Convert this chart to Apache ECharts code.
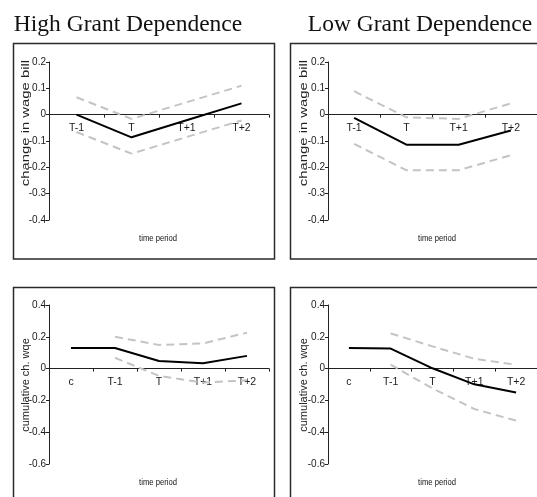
<!DOCTYPE html>
<html>
<head>
<meta charset="utf-8">
<script src="https://cdn.jsdelivr.net/npm/echarts@6/dist/echarts.min.js"></script>
<style>
  html, body { margin: 0; padding: 0; background: #fff; }
  #chart { width: 537px; height: 497px; }
</style>
</head>
<body>
<div id="chart"></div>
<script>
// Time periods around the grant change
var topCats = ['T-1', 'T', 'T+1', 'T+2'];
var bottomCats = ['c', 'T-1', 'T', 'T+1', 'T+2'];

// Change in wage bill: estimate and confidence band
var highWage      = [0, -0.086, -0.021, 0.043];
var highWageUpper = [0.066, -0.016, 0.047, 0.11];
var highWageLower = [-0.066, -0.148, -0.085, -0.022];

var lowWage       = [-0.012, -0.114, -0.114, -0.06];
var lowWageUpper  = [0.089, -0.01, -0.016, 0.043];
var lowWageLower  = [-0.111, -0.211, -0.211, -0.154];

// Cumulative change in wage bill
var highCum       = [0.13, 0.13, 0.048, 0.033, 0.08];
var highCumUpper  = [null, 0.2, 0.149, 0.158, 0.226];
var highCumLower  = [null, 0.068, -0.046, -0.088, -0.074];

var lowCum        = [0.13, 0.126, 0.002, -0.099, -0.15];
var lowCumUpper   = [null, 0.221, 0.14, 0.062, 0.024];
var lowCumLower   = [null, 0.025, -0.125, -0.254, -0.327];

// Value-axis ranges
var wageRange = { min: -0.4, max: 0.2, step: 0.1 };
var cumRange  = { min: -0.6, max: 0.4, step: 0.2 };

var titles = ['High Grant Dependence', 'Low Grant Dependence'];
var wageAxisName = 'change in wage bill';
var cumAxisName = 'cumulative ch. wqe';
var xAxisName = 'time period';

var chart = echarts.init(document.getElementById('chart'), null, { renderer: 'canvas' });

var sansFont = '"Liberation Sans", Arial, sans-serif';
var serifFont = '"Liberation Serif", "Times New Roman", serif';
var axisColor = '#222';

// Plot areas of the four panels
var grids = [
  { left: 49, top: 62, width: 220, height: 158 },
  { left: 328, top: 62, width: 219, height: 158 },
  { left: 49, top: 305, width: 220, height: 159 },
  { left: 328, top: 305, width: 219, height: 159 }
];

function fmt(v) {
  return (+v.toFixed(2)).toString();
}

// Category axis drawn along the zero line of its panel
function xAxisFor(idx, cats, range) {
  var g = grids[idx];
  var zeroFromBottom = g.height * (0 - range.min) / (range.max - range.min);
  return {
    type: 'category', gridIndex: idx, data: cats, boundaryGap: true,
    position: 'bottom', offset: -zeroFromBottom,
    axisLine: { onZero: false, lineStyle: { color: axisColor, width: 1 } },
    axisTick: { show: true, length: 3, lineStyle: { color: axisColor } },
    axisLabel: { color: '#1a1a1a', fontFamily: sansFont, fontSize: 10.5, margin: 8 },
    splitLine: { show: false }
  };
}
function yAxisFor(idx, range) {
  return {
    type: 'value', gridIndex: idx, min: range.min, max: range.max, interval: range.step,
    axisLine: { show: true, onZero: false, lineStyle: { color: axisColor, width: 1 } },
    axisTick: { show: true, length: 3, lineStyle: { color: axisColor } },
    axisLabel: { color: '#1a1a1a', fontFamily: sansFont, fontSize: 10, margin: 3, formatter: fmt },
    splitLine: { show: false }
  };
}
function line(idx, data, kind) {
  var style = kind === 'est'
    ? { color: '#000', width: 2, type: 'solid' }
    : { color: '#c4c4c4', width: 2, type: [8, 5] };
  return {
    type: 'line', xAxisIndex: idx, yAxisIndex: idx, data: data,
    symbol: 'none', silent: true, animation: false,
    lineStyle: style, itemStyle: { color: style.color }, z: kind === 'est' ? 3 : 2
  };
}

function panelBox(x, y, w, h) {
  return { type: 'rect', shape: { x: x, y: y, width: w, height: h }, silent: true, z: -1,
           style: { fill: 'none', stroke: '#2a2a2a', lineWidth: 1.5 } };
}
function vText(text, x, y, stretch) {
  return { type: 'text', x: x, y: y, rotation: Math.PI / 2, scaleX: stretch, silent: true,
           style: { text: text, font: '11px ' + sansFont, fill: '#222', align: 'center', verticalAlign: 'middle' } };
}
function hText(text, x, y, font, squeeze) {
  return { type: 'text', x: x, y: y, scaleX: squeeze || 1, silent: true,
           style: { text: text, font: font, fill: '#111', align: 'center', verticalAlign: 'middle' } };
}

var option = {
  backgroundColor: '#fff',
  animation: false,
  grid: grids,
  xAxis: [
    xAxisFor(0, topCats, wageRange), xAxisFor(1, topCats, wageRange),
    xAxisFor(2, bottomCats, cumRange), xAxisFor(3, bottomCats, cumRange)
  ],
  yAxis: [
    yAxisFor(0, wageRange), yAxisFor(1, wageRange),
    yAxisFor(2, cumRange), yAxisFor(3, cumRange)
  ],
  series: [
    line(0, highWageUpper, 'band'), line(0, highWageLower, 'band'), line(0, highWage, 'est'),
    line(1, lowWageUpper, 'band'), line(1, lowWageLower, 'band'), line(1, lowWage, 'est'),
    line(2, highCumUpper, 'band'), line(2, highCumLower, 'band'), line(2, highCum, 'est'),
    line(3, lowCumUpper, 'band'), line(3, lowCumLower, 'band'), line(3, lowCum, 'est')
  ],
  graphic: [
    panelBox(13.5, 43.5, 261, 215.5),
    panelBox(290.5, 43.5, 260, 215.5),
    panelBox(13.5, 287.5, 261, 220),
    panelBox(290.5, 287.5, 260, 220),
    hText(titles[0], 128, 25, '23.5px ' + serifFont),
    hText(titles[1], 420, 25, '23.5px ' + serifFont),
    vText(wageAxisName, 26, 123, 1.35),
    vText(wageAxisName, 304, 123, 1.35),
    vText(cumAxisName, 26, 385, 1),
    vText(cumAxisName, 304, 385, 1),
    hText(xAxisName, 158, 239, '9px ' + sansFont, 0.85),
    hText(xAxisName, 437, 239, '9px ' + sansFont, 0.85),
    hText(xAxisName, 158, 483, '9px ' + sansFont, 0.85),
    hText(xAxisName, 437, 483, '9px ' + sansFont, 0.85)
  ]
};

chart.setOption(option);
</script>
</body>
</html>
